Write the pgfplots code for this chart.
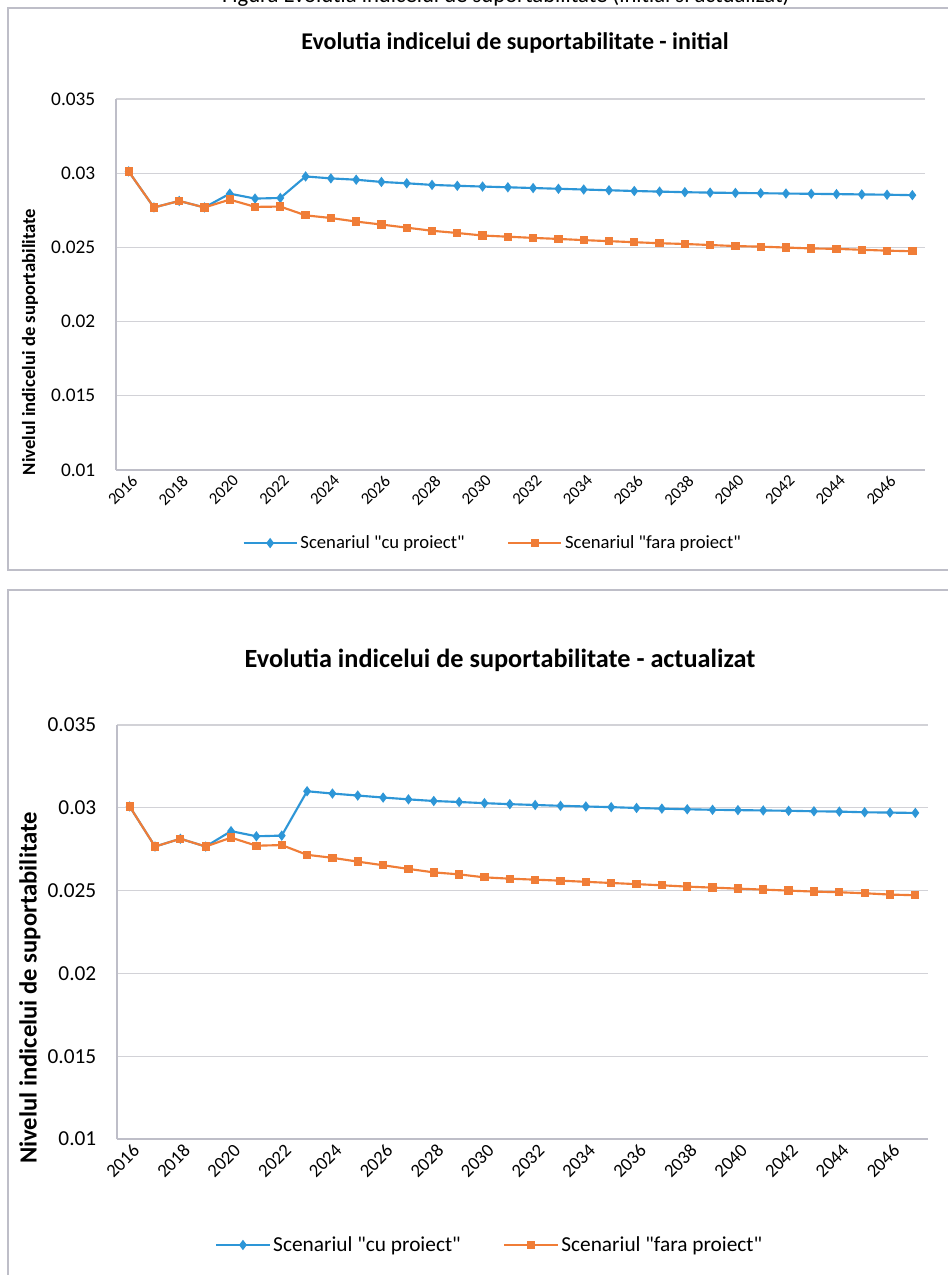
\documentclass[border=0pt]{standalone}
\usepackage{fontspec}
\setmainfont{Carlito}[Ligatures=TeXOff]
\usepackage{pgfplots}
\pgfplotsset{compat=1.18}
\usepackage{pgfplotstable}
\definecolor{cublue}{RGB}{45,150,215}
\definecolor{faraor}{RGB}{240,125,55}
\definecolor{gridc}{RGB}{210,210,215}
\definecolor{framec}{RGB}{190,190,200}
\newcommand{\q}{\char34\relax}

\pgfplotstableread{
year cu fara
2016 0.03012 0.03012
2017 0.02769 0.02769
2018 0.02813 0.02813
2019 0.02769 0.02769
2020 0.02862 0.02822
2021 0.02829 0.02773
2022 0.02833 0.02775
2023 0.02978 0.02716
2024 0.02965 0.02698
2025 0.02956 0.02674
2026 0.02941 0.02654
2027 0.02932 0.02633
2028 0.02921 0.02612
2029 0.02915 0.02597
2030 0.02910 0.02580
2031 0.02905 0.02572
2032 0.02900 0.02564
2033 0.02895 0.02557
2034 0.02890 0.02549
2035 0.02885 0.02542
2036 0.02880 0.02535
2037 0.02876 0.02528
2038 0.02872 0.02523
2039 0.02869 0.02516
2040 0.02867 0.02509
2041 0.02865 0.02505
2042 0.02863 0.02499
2043 0.02861 0.02493
2044 0.02859 0.02490
2045 0.02857 0.02484
2046 0.02855 0.02478
2047 0.02852 0.02474
}\initial

\pgfplotstableread{
year cu fara
2016 0.03008 0.03008
2017 0.02766 0.02766
2018 0.02813 0.02813
2019 0.02766 0.02766
2020 0.02859 0.02820
2021 0.02828 0.02771
2022 0.02832 0.02775
2023 0.03100 0.02716
2024 0.03086 0.02698
2025 0.03074 0.02675
2026 0.03062 0.02653
2027 0.03051 0.02631
2028 0.03041 0.02610
2029 0.03035 0.02598
2030 0.03028 0.02580
2031 0.03022 0.02572
2032 0.03017 0.02566
2033 0.03012 0.02560
2034 0.03008 0.02553
2035 0.03004 0.02546
2036 0.02999 0.02539
2037 0.02995 0.02532
2038 0.02991 0.02524
2039 0.02988 0.02518
2040 0.02986 0.02512
2041 0.02984 0.02506
2042 0.02982 0.02500
2043 0.02979 0.02494
2044 0.02977 0.02490
2045 0.02973 0.02484
2046 0.02971 0.02476
2047 0.02969 0.02472
}\actualizat

\pgfplotsset{
  mystyle/.style={
    scale only axis,
    xmin=2015.5, xmax=2047.5,
    ymin=0.01, ymax=0.035,
    scaled y ticks=false,
    xtick={2016,2018,...,2046},
    xticklabels={2016,2018,2020,2022,2024,2026,2028,2030,2032,2034,2036,2038,2040,2042,2044,2046},
    ytick={0.01,0.015,0.02,0.025,0.03,0.035},
    yticklabels={0.01,0.015,0.02,0.025,0.03,0.035},
    axis lines*=left,
    axis line style={framec, line width=0.8pt},
    major tick length=0pt,
    ymajorgrids,
    grid style={gridc, line width=0.8pt},
    xticklabel style={rotate=45, anchor=north east, inner sep=1pt, yshift=-2pt},
    yticklabel style={anchor=east, xshift=-12pt},
    legend columns=2,
    legend cell align=left,
    legend style={draw=none, fill=none, /tikz/every even column/.append style={column sep=30pt}},
    legend image code/.code={\draw[mark repeat=2,mark phase=2] plot coordinates {(0cm,0cm) (0.7cm,0cm) (1.4cm,0cm)};},
    clip=false,
  },
  cuplot/.style={cublue, line width=1.6pt, mark=diamond*, mark size=2.6pt, mark options={fill=cublue, draw=cublue}},
  faraplot/.style={faraor, line width=1.6pt, mark=square*, mark size=2.3pt, mark options={fill=faraor, draw=faraor}},
}

\begin{document}
\begin{tikzpicture}
\useasboundingbox (0,0) rectangle (710.25pt,956.25pt);
\fill[white] (0,0) rectangle (710.25pt,956.25pt);

% caption line (cut off at the top)
\node[anchor=base east, inner sep=0pt, font=\fontsize{17pt}{19pt}\selectfont] at (592.5pt,954.5pt)
  {Figura Evolutia indicelui de suportabilitate (initial si actualizat)};

% frames
\draw[framec, line width=0.8pt] (720pt,950.25pt) -- (6pt,950.25pt) -- (6pt,528.75pt) -- (720pt,528.75pt);
\draw[framec, line width=0.8pt] (720pt,513.75pt) -- (6pt,513.75pt) -- (6pt,-10pt);

% ---- top chart
\node[font=\bfseries\fontsize{18pt}{21pt}\selectfont] at (386.25pt,924pt)
  {Evolutia indicelui de suportabilitate - initial};
\node[rotate=90, font=\bfseries\fontsize{14pt}{16pt}\selectfont] at (22.5pt,699.75pt)
  {Nivelul indicelui de suportabilitate};
\begin{axis}[mystyle,
  at={(87pt,603.75pt)}, anchor=south west,
  width=606.75pt, height=278.25pt,
  yticklabel style={font=\fontsize{14.5pt}{16pt}\selectfont},
  xticklabel style={font=\fontsize{12.5pt}{14pt}\selectfont},
  legend style={at={(0.466,-0.197)}, anchor=center, font=\fontsize{14pt}{16pt}\selectfont},
]
\addplot[cuplot] table[x=year, y=cu] {\initial};
\addlegendentry{Scenariul \q cu proiect\q}
\addplot[faraplot] table[x=year, y=fara] {\initial};
\addlegendentry{Scenariul \q fara proiect\q}
\end{axis}

% ---- bottom chart
\node[font=\bfseries\fontsize{19.7pt}{23pt}\selectfont] at (375pt,461.25pt)
  {Evolutia indicelui de suportabilitate - actualizat};
\node[rotate=90, font=\bfseries\fontsize{18.5pt}{21pt}\selectfont] at (22.5pt,215.25pt)
  {Nivelul indicelui de suportabilitate};
\begin{axis}[mystyle,
  at={(87.75pt,102pt)}, anchor=south west,
  width=608.25pt, height=310.5pt,
  yticklabel style={font=\fontsize{16pt}{18pt}\selectfont},
  xticklabel style={font=\fontsize{14pt}{16pt}\selectfont},
  legend style={at={(0.46,-0.256)}, anchor=center, font=\fontsize{16pt}{18pt}\selectfont},
]
\addplot[cuplot] table[x=year, y=cu] {\actualizat};
\addlegendentry{Scenariul \q cu proiect\q}
\addplot[faraplot] table[x=year, y=fara] {\actualizat};
\addlegendentry{Scenariul \q fara proiect\q}
\end{axis}
\end{tikzpicture}
\end{document}
